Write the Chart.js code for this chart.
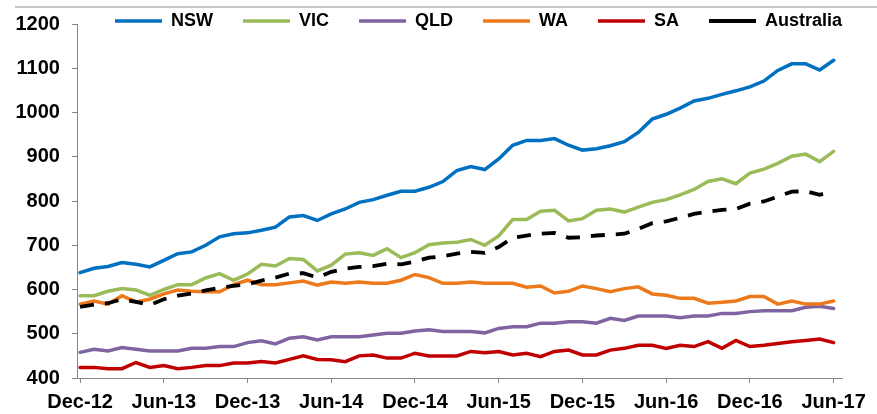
<!DOCTYPE html>
<html>
<head>
<meta charset="utf-8">
<script src="https://cdn.jsdelivr.net/npm/chart.js@4/dist/chart.umd.min.js"></script>
<style>
  html, body { margin: 0; padding: 0; background: #fff; }
  #wrap { position: relative; width: 877px; height: 414px; }
  #topline { position: absolute; left: 15px; right: 0; top: 6px; border-top: 2px solid #c9c9c9; }
</style>
</head>
<body>
<div id="wrap">
  <div id="topline"></div>
  <canvas id="chart" width="877" height="414"></canvas>
</div>
<script>
// months on the x axis
const months = [
  'Dec-12',
  'Jan-13', 'Feb-13', 'Mar-13', 'Apr-13', 'May-13', 'Jun-13', 'Jul-13', 'Aug-13', 'Sep-13', 'Oct-13', 'Nov-13', 'Dec-13',
  'Jan-14', 'Feb-14', 'Mar-14', 'Apr-14', 'May-14', 'Jun-14', 'Jul-14', 'Aug-14', 'Sep-14', 'Oct-14', 'Nov-14', 'Dec-14',
  'Jan-15', 'Feb-15', 'Mar-15', 'Apr-15', 'May-15', 'Jun-15', 'Jul-15', 'Aug-15', 'Sep-15', 'Oct-15', 'Nov-15', 'Dec-15',
  'Jan-16', 'Feb-16', 'Mar-16', 'Apr-16', 'May-16', 'Jun-16', 'Jul-16', 'Aug-16', 'Sep-16', 'Oct-16', 'Nov-16', 'Dec-16',
  'Jan-17', 'Feb-17', 'Mar-17', 'Apr-17', 'May-17', 'Jun-17'
];

// labelled ticks
const tickLabels = ['Dec-12', 'Jun-13', 'Dec-13', 'Jun-14', 'Dec-14', 'Jun-15', 'Dec-15', 'Jun-16', 'Dec-16', 'Jun-17'];

// series
const nsw = [638, 648, 652, 661, 657, 651, 666, 681, 685, 700, 719, 726, 728, 734, 741, 764, 767, 756, 771, 782,
  797, 803, 813, 822, 822, 831, 844, 869, 878, 871, 895, 926, 937, 937, 941, 926, 915, 918, 925, 934,
  955, 985, 996, 1010, 1026, 1032, 1041, 1049, 1058, 1071, 1095, 1110, 1110, 1096, 1118];
const vic = [586, 586, 596, 602, 599, 587, 600, 611, 611, 626, 636, 621, 635, 657, 653, 670, 668, 642, 655, 680,
  683, 677, 692, 672, 683, 701, 705, 707, 713, 700, 721, 758, 758, 777, 779, 755, 760, 779, 782, 775,
  786, 797, 803, 814, 826, 844, 850, 839, 863, 872, 885, 901, 906, 889, 912];
const qld = [458, 465, 461, 469, 465, 461, 461, 461, 467, 467, 471, 471, 480, 484, 477, 490, 493, 486, 493, 493,
  493, 497, 501, 501, 506, 509, 505, 505, 505, 502, 512, 516, 516, 524, 524, 527, 527, 524, 535, 530,
  540, 540, 540, 536, 540, 540, 546, 546, 550, 552, 552, 552, 560, 562, 557];
const wa = [567, 574, 567, 586, 572, 578, 590, 599, 596, 595, 595, 611, 621, 611, 611, 615, 619, 610, 617, 614,
  617, 614, 614, 621, 634, 627, 614, 614, 617, 614, 614, 614, 605, 608, 592, 596, 608, 602, 595, 602,
  606, 590, 587, 580, 580, 569, 571, 574, 584, 584, 567, 574, 567, 567, 574];
const sa = [424, 424, 421, 421, 435, 424, 428, 421, 424, 428, 428, 434, 434, 437, 434, 442, 450, 442, 441, 437,
  450, 452, 445, 445, 456, 450, 450, 450, 460, 457, 460, 452, 456, 448, 460, 463, 452, 452, 463, 467,
  474, 474, 467, 474, 471, 482, 467, 485, 471, 474, 478, 482, 485, 488, 480];
const australia = [561, 566, 569, 578, 572, 565, 578, 586, 591, 598, 604, 608, 612, 620, 627, 636, 637, 627, 640, 647,
  651, 653, 658, 657, 663, 672, 675, 681, 685, 683, 696, 717, 722, 726, 728, 717, 718, 722, 724, 726,
  737, 750, 754, 762, 771, 776, 780, 782, 794, 799, 810, 821, 822, 814, 822];

const FONT = "'Liberation Sans', Arial, sans-serif";
const AXIS_GREY = '#868686';

function series(label, values, color, extra) {
    return Object.assign({
        label: label,
        data: values.map((v, i) => ({ x: i, y: v })),
        borderColor: color,
        backgroundColor: color,
        borderWidth: 3.5,
        borderCapStyle: 'round',
        pointRadius: 0,
        tension: 0,
        fill: false
    }, extra || {});
}

// legend sits over the top of the plot, like the original
const legendOverPlot = {
    id: 'legendOverPlot',
    beforeLayout(chart) {
        const legend = chart.legend;
        if (!legend || legend._patched) return;
        const fit = legend.fit;
        legend.fit = function () { fit.call(this); this.height = 0; };
        legend._patched = true;
    },
    afterLayout(chart) {
        const legend = chart.legend;
        legend.left = 85;
        legend.right = 1200;
        legend.top = -18;
        legend.bottom = 60;
        legend.width = legend.right - legend.left;
        legend.height = legend.bottom - legend.top;
    }
};

new Chart(document.getElementById('chart'), {
    type: 'line',
    data: {
        datasets: [
            series('NSW', nsw, '#0070C0', { order: 5 }),
            series('VIC', vic, '#9BBB59', { order: 4 }),
            series('QLD', qld, '#8064A2', { order: 3 }),
            series('WA', wa, '#EC7A1C', { order: 2 }),
            series('SA', sa, '#C00000', { order: 1 }),
            series('Australia', australia, '#000000', { order: 0, borderDash: [14, 11], borderCapStyle: 'butt', borderWidth: 3.8 })
        ]
    },
    options: {
        responsive: false,
        animation: false,
        // tick padding is counted twice when the scales are fitted, hence the small left / negative bottom
        layout: { padding: { left: 3.5, right: 35, top: 23, bottom: -7 } },
        plugins: {
            tooltip: { enabled: false },
            legend: {
                display: true,
                position: 'top',
                align: 'start',
                labels: {
                    usePointStyle: true,
                    pointStyle: 'line',
                    pointStyleWidth: 47,
                    boxHeight: 18,
                    padding: 30,
                    color: '#000',
                    font: { family: FONT, size: 18, weight: 'bold' },
                    sort: (a, b) => a.datasetIndex - b.datasetIndex
                }
            }
        },
        scales: {
            x: {
                type: 'linear',
                min: -0.15,
                max: 54.6,
                afterBuildTicks: axis => {
                    axis.ticks = tickLabels.map(l => ({ value: months.indexOf(l) }));
                },
                grid: { drawOnChartArea: false, drawTicks: true, tickLength: 5, color: AXIS_GREY },
                border: { display: true, color: AXIS_GREY, width: 1 },
                ticks: {
                    autoSkip: false,
                    maxRotation: 0,
                    padding: 7,
                    color: '#000',
                    font: { family: FONT, size: 20, weight: 'bold' },
                    callback: v => months[v]
                }
            },
            y: {
                min: 400,
                max: 1200,
                grid: { drawOnChartArea: false, drawTicks: true, tickLength: 6, color: AXIS_GREY },
                border: { display: true, color: AXIS_GREY, width: 1 },
                ticks: {
                    stepSize: 100,
                    padding: 12,
                    color: '#000',
                    font: { family: FONT, size: 20, weight: 'bold' },
                    callback: v => String(v)
                }
            }
        }
    },
    plugins: [legendOverPlot]
});
</script>
</body>
</html>
